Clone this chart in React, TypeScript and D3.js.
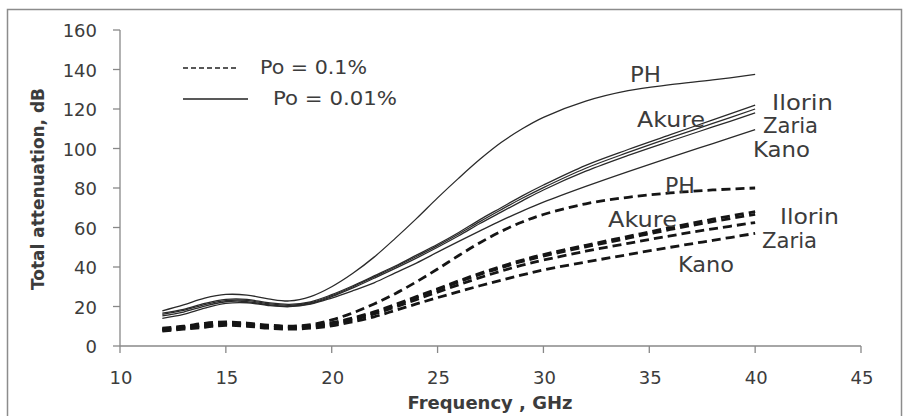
import React from "react";
import * as d3 from "d3";

const freqs = [12, 13, 14, 15, 16, 17, 18, 19, 20, 21, 22, 23, 24, 25, 26, 27, 28, 29, 30, 32, 34, 36, 38, 40];

// Po = 0.01% (solid)
const solidPH = [17.8, 20.8, 24.2, 26.1, 25.8, 23.9, 22.8, 25, 30, 36.8, 45, 54.5, 64.5, 75, 85, 94.5, 103, 110, 115.8, 124, 129.3, 132.3, 134.7, 137.5];
const solidIlorin = [16.6, 18.6, 21.6, 23.6, 23.6, 21.9, 21.1, 22.4, 26, 30.5, 35.5, 40.5, 46, 51.5, 57.5, 64, 70, 76, 81.5, 91.5, 99.5, 107, 114.5, 122];
const solidAkure = [16, 18, 21, 23, 23.1, 21.4, 20.6, 21.9, 25.5, 30, 35, 40, 45.3, 50.8, 56.7, 63, 69, 74.8, 80.2, 90, 98, 105.5, 112.7, 120];
const solidZaria = [15.2, 17.2, 20.2, 22.4, 22.5, 20.9, 20.2, 21.5, 25, 29.4, 34.3, 39.3, 44.5, 50, 55.8, 62, 67.8, 73.5, 79, 88.5, 96.5, 103.8, 110.9, 118];
const solidKano = [14, 16, 19.2, 21.6, 21.9, 20.5, 19.9, 21.2, 24.3, 28, 32, 37, 42, 47.5, 53, 58.3, 63.5, 68.3, 72.8, 80.8, 88.3, 95.5, 102.5, 109.5];

// Po = 0.1% (dashed)
const dashPH = [9, 10, 11.5, 12.2, 11.6, 10.6, 10, 10.8, 13.2, 16.8, 21.3, 26.5, 32.5, 39, 45.8, 52.3, 58, 62.8, 66.6, 72, 75.3, 77.5, 79, 80];
const dashIlorin = [8.6, 9.6, 10.6, 11.6, 11.1, 10.1, 9.6, 10.2, 11.8, 14.2, 17.3, 21, 25, 29, 33, 36.8, 40.3, 43.5, 46.3, 51, 55.5, 60, 64.2, 68];
const dashAkure = [8.3, 9.3, 10.3, 11.3, 10.8, 9.8, 9.3, 9.9, 11.4, 13.8, 16.9, 20.5, 24.5, 28.5, 32.4, 36.2, 39.6, 42.8, 45.5, 50.2, 54.6, 59, 63, 66.7];
const dashZaria = [7.9, 8.9, 9.9, 10.9, 10.4, 9.4, 8.9, 9.5, 10.9, 13.2, 16.2, 19.7, 23.5, 27.3, 31, 34.6, 37.9, 40.9, 43.5, 48, 52, 55.8, 59.3, 62.5];
const dashKano = [7.5, 8.5, 9.5, 10.5, 10, 9, 8.5, 9, 10.2, 12.3, 14.8, 18, 21.3, 24.5, 27.5, 30.5, 33.3, 36, 38.5, 42.5, 46.3, 50, 53.5, 57];

const xTicks = [10, 15, 20, 25, 30, 35, 40, 45];
const yTicks = [0, 20, 40, 60, 80, 100, 120, 140, 160];

const solidSeries = [solidPH, solidIlorin, solidAkure, solidZaria, solidKano];
const dashSeries = [dashPH, dashIlorin, dashAkure, dashZaria, dashKano];

// labels: [text, x, baselineY, width]
const solidLabels: [string, number, number, number][] = [
  ["PH", 630, 82, 31],
  ["Akure", 637, 127, 68],
  ["Ilorin", 772, 110, 61],
  ["Zaria", 763, 133, 55],
  ["Kano", 753, 157, 57],
];
const dashLabels: [string, number, number, number][] = [
  ["PH", 665, 193, 30],
  ["Akure", 608, 227, 69],
  ["Ilorin", 780, 224, 59],
  ["Zaria", 762, 248, 55],
  ["Kano", 678, 272, 56],
];

const W = 904;
const H = 416;
const FONT = "'DejaVu Sans', sans-serif";
const TXT = "#3c3c3c";
const AX = "#888888";

export default function App() {
  const x = d3.scaleLinear().domain([10, 45]).range([120, 861]);
  const y = d3.scaleLinear().domain([0, 160]).range([346, 30]);
  const line = d3
    .line<number>()
    .x((_, i) => x(freqs[i]))
    .y((d) => y(d))
    .curve(d3.curveCatmullRom.alpha(0.5));

  return (
    <svg
      width={W}
      height={H}
      style={{ position: "absolute", left: 0, top: 0, background: "#fff" }}
    >
      <rect x={0} y={0} width={W} height={H} fill="#fff" />
      <rect x={7.5} y={9.5} width={894} height={420} fill="none" stroke="#8c8c8c" strokeWidth={1.5} />

      {/* axes */}
      <line x1={x(10)} x2={x(10)} y1={y(160)} y2={y(0)} stroke={AX} strokeWidth={1.3} />
      <line x1={x(10)} x2={x(45)} y1={y(0)} y2={y(0)} stroke={AX} strokeWidth={1.3} />
      {yTicks.map((t) => (
        <g key={"y" + t}>
          <line x1={x(10) - 7} x2={x(10)} y1={y(t)} y2={y(t)} stroke={AX} strokeWidth={1.3} />
          <text x={97} y={y(t) + 7} textAnchor="end" fontFamily={FONT} fontSize={18} fill={TXT}>
            {t}
          </text>
        </g>
      ))}
      {xTicks.map((t) => (
        <g key={"x" + t}>
          <line x1={x(t)} x2={x(t)} y1={y(0)} y2={y(0) + 7} stroke={AX} strokeWidth={1.3} />
          <text x={x(t) + 1} y={384} textAnchor="middle" fontFamily={FONT} fontSize={18} fill={TXT}>
            {t}
          </text>
        </g>
      ))}

      {/* axis titles */}
      <text
        x={490}
        y={409}
        textAnchor="middle"
        fontFamily={FONT}
        fontWeight="bold"
        fontSize={17}
        fill={TXT}
        textLength={165}
        lengthAdjust="spacingAndGlyphs"
      >
        Frequency , GHz
      </text>
      <text
        transform="translate(44,189) rotate(-90)"
        textAnchor="middle"
        fontFamily={FONT}
        fontWeight="bold"
        fontSize={17}
        fill={TXT}
        textLength={202}
        lengthAdjust="spacingAndGlyphs"
      >
        Total attenuation, dB
      </text>

      {/* series */}
      {solidSeries.map((s, i) => (
        <path key={"s" + i} d={line(s) || ""} fill="none" stroke="#2a2a2a" strokeWidth={1.3} />
      ))}
      {dashSeries.map((s, i) => (
        <path
          key={"d" + i}
          d={line(s) || ""}
          fill="none"
          stroke="#151515"
          strokeWidth={2.8}
          strokeDasharray="9,5"
        />
      ))}

      {/* labels */}
      {[...solidLabels, ...dashLabels].map(([t, lx, ly, w], i) => (
        <text
          key={"l" + i}
          x={lx}
          y={ly}
          fontFamily={FONT}
          fontSize={21}
          fill={TXT}
          textLength={w}
          lengthAdjust="spacingAndGlyphs"
        >
          {t}
        </text>
      ))}

      {/* legend */}
      <line x1={183} x2={238} y1={68} y2={68} stroke="#222" strokeWidth={1.5} strokeDasharray="5,3" />
      <text x={260} y={74} fontFamily={FONT} fontSize={19} fill={TXT} textLength={107} lengthAdjust="spacingAndGlyphs">
        Po = 0.1%
      </text>
      <line x1={183} x2={248} y1={99} y2={99} stroke="#222" strokeWidth={1.5} />
      <text x={273} y={105} fontFamily={FONT} fontSize={19} fill={TXT} textLength={124} lengthAdjust="spacingAndGlyphs">
        Po = 0.01%
      </text>
    </svg>
  );
}
